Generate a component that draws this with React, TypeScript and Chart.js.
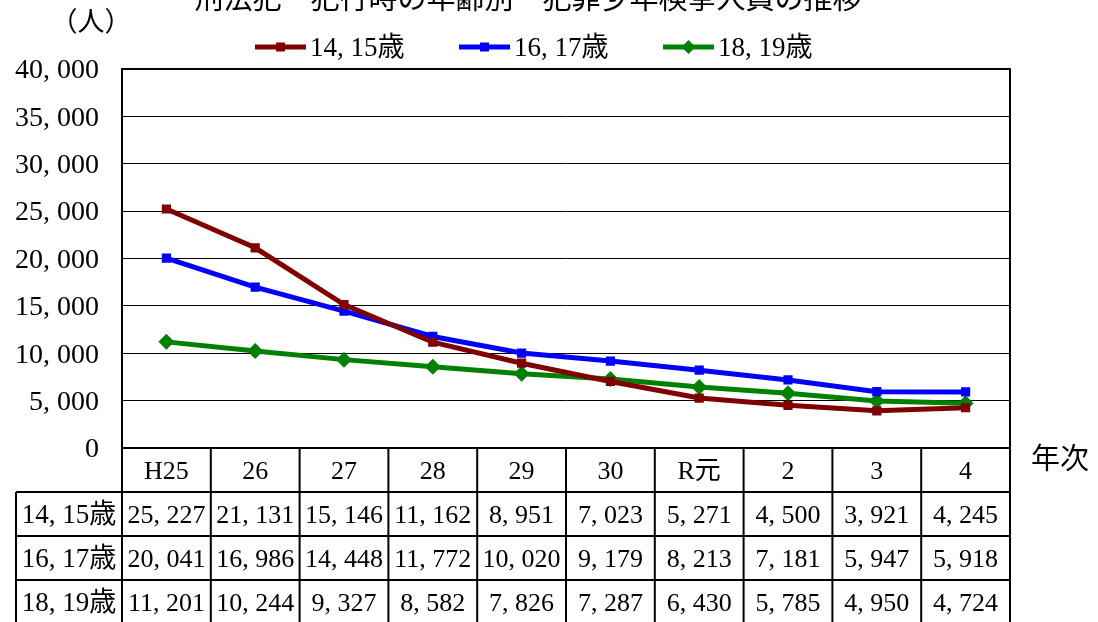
import React, { useEffect, useRef } from "react";
import { Chart, registerables } from "chart.js";

Chart.register(...registerables);

const TITLE = "刑法犯　犯行時の年齢別　犯罪少年検挙人員の推移";
const UNIT_LABEL = "（人）";
const X_AXIS_LABEL = "年次";
const categories = ["H25", "26", "27", "28", "29", "30", "R元", "2", "3", "4"];
const seriesNames = ["14, 15歳", "16, 17歳", "18, 19歳"];
const age1415 = [25227, 21131, 15146, 11162, 8951, 7023, 5271, 4500, 3921, 4245];
const age1617 = [20041, 16986, 14448, 11772, 10020, 9179, 8213, 7181, 5947, 5918];
const age1819 = [11201, 10244, 9327, 8582, 7826, 7287, 6430, 5785, 4950, 4724];
const seriesColors = ["#800000", "#0000FF", "#008000"];
const seriesMarkers = ["rect", "rect", "rectRot"];
const Y_MIN = 0;
const Y_MAX = 40000;
const Y_STEP = 5000;

const SERIF = '"Liberation Serif", "Noto Sans CJK JP", serif';
const CJK = '"Noto Sans CJK JP", "Liberation Serif", sans-serif';

function fmt(n: number): string {
  return String(n).replace(/\B(?=(\d{3})+(?!\d))/g, ", ");
}

const overlayPlugin = {
  id: "overlay",
  afterDraw(chart: any) {
    const ctx: CanvasRenderingContext2D = chart.ctx;
    const area = chart.chartArea;
    const xs = chart.scales.x;
    const n = categories.length;
    const colW = (area.right - area.left) / n;
    ctx.save();

    // frame
    ctx.strokeStyle = "#000";
    ctx.lineWidth = 2;
    ctx.strokeRect(area.left, area.top, area.right - area.left, area.bottom - area.top);

    // title
    ctx.fillStyle = "#000";
    ctx.textAlign = "center";
    ctx.textBaseline = "alphabetic";
    ctx.font = `29px ${CJK}`;
    ctx.fillText(TITLE, 528, 9);

    // unit label
    ctx.font = `27px ${SERIF}`;
    ctx.textAlign = "center";
    ctx.textBaseline = "middle";
    ctx.fillText(UNIT_LABEL, 91, 24);

    // x axis label
    ctx.textAlign = "left";
    ctx.font = `29px ${SERIF}`;
    ctx.fillText(X_AXIS_LABEL, 1031, 461);

    // legend
    const legendX = [255, 459, 663];
    const legendY = 47;
    chart.data.datasets.forEach((ds: any, i: number) => {
      const x0 = legendX[i];
      ctx.strokeStyle = ds.borderColor;
      ctx.lineWidth = 5;
      ctx.beginPath();
      ctx.moveTo(x0, legendY);
      ctx.lineTo(x0 + 51, legendY);
      ctx.stroke();
      ctx.fillStyle = ds.backgroundColor;
      if (ds.pointStyle === "rectRot") {
        const r = 7;
        const cx = x0 + 25.5;
        ctx.beginPath();
        ctx.moveTo(cx, legendY - r);
        ctx.lineTo(cx + r, legendY);
        ctx.lineTo(cx, legendY + r);
        ctx.lineTo(cx - r, legendY);
        ctx.closePath();
        ctx.fill();
      } else {
        ctx.fillRect(x0 + 21, legendY - 4.5, 9, 9);
      }
      ctx.fillStyle = "#000";
      ctx.font = `27px ${SERIF}`;
      ctx.textAlign = "left";
      ctx.textBaseline = "middle";
      ctx.fillText(ds.label, x0 + 55, legendY + 2);
    });

    // data table
    const rowH = 44;
    const top = area.bottom;
    const labelLeft = 16;
    ctx.strokeStyle = "#000";
    ctx.lineWidth = 2;
    ctx.beginPath();
    ctx.moveTo(area.left, top + rowH);
    ctx.lineTo(area.right, top + rowH);
    ctx.moveTo(labelLeft, top + rowH);
    ctx.lineTo(area.left, top + rowH);
    for (let r = 2; r <= 4; r++) {
      ctx.moveTo(labelLeft, top + rowH * r);
      ctx.lineTo(area.right, top + rowH * r);
    }
    for (let c = 0; c <= n; c++) {
      const x = area.left + c * colW;
      ctx.moveTo(x, top);
      ctx.lineTo(x, top + rowH * 4 + 4);
    }
    ctx.moveTo(labelLeft, top + rowH);
    ctx.lineTo(labelLeft, top + rowH * 4 + 4);
    ctx.stroke();

    ctx.fillStyle = "#000";
    ctx.textAlign = "center";
    ctx.textBaseline = "middle";
    ctx.font = `26px ${SERIF}`;
    categories.forEach((c, i) => {
      const cx = xs.getPixelForValue(i);
      ctx.fillText(c, cx, top + rowH / 2 + 2);
    });
    chart.data.datasets.forEach((ds: any, r: number) => {
      const cy = top + rowH * (r + 1) + rowH / 2 + 2;
      ctx.font = `27px ${SERIF}`;
      ctx.fillText(ds.label, (labelLeft + area.left) / 2, cy);
      ctx.font = `26px ${SERIF}`;
      ds.data.forEach((v: number, i: number) => {
        ctx.fillText(fmt(v), xs.getPixelForValue(i), cy);
      });
    });
    ctx.restore();
  },
};

export default function App() {
  const ref = useRef<HTMLCanvasElement | null>(null);
  useEffect(() => {
    document.body.style.margin = "0";
    const canvas = ref.current;
    if (!canvas) return;
    const values = [age1415, age1617, age1819];
    const chart = new Chart(canvas, {
      type: "line",
      data: {
        labels: categories,
        datasets: values.map((d, i) => ({
          label: seriesNames[i],
          data: d,
          borderColor: seriesColors[i],
          backgroundColor: seriesColors[i],
          borderWidth: 5,
          pointStyle: seriesMarkers[i] as any,
          pointRadius: seriesMarkers[i] === "rectRot" ? 8 : 6.5,
          pointBorderWidth: 0,
          tension: 0,
          fill: false,
        })),
      },
      options: {
        animation: false,
        responsive: true,
        maintainAspectRatio: false,
        layout: { padding: { left: 0, right: 88, top: 69, bottom: 174 } },
        plugins: {
          legend: { display: false },
          title: { display: false },
          tooltip: { enabled: false },
        },
        scales: {
          x: {
            type: "category",
            display: false,
            offset: true,
          },
          y: {
            min: Y_MIN,
            max: Y_MAX,
            afterFit: (scale: any) => {
              scale.width = 122;
            },
            ticks: {
              stepSize: Y_STEP,
              padding: 23,
              labelOffset: 2,
              color: "#000",
              font: { family: SERIF, size: 28 },
              callback: (v: any) => fmt(Number(v)),
            },
            grid: {
              color: "#000",
              lineWidth: 1,
              drawTicks: false,
            },
            border: { color: "#000", width: 2 },
          },
        },
      },
      plugins: [overlayPlugin],
    });
    return () => chart.destroy();
  }, []);
  return (
    <div style={{ position: "fixed", left: 0, top: 0, width: 1098, height: 622, background: "#fff" }}>
      <canvas ref={ref} />
    </div>
  );
}
